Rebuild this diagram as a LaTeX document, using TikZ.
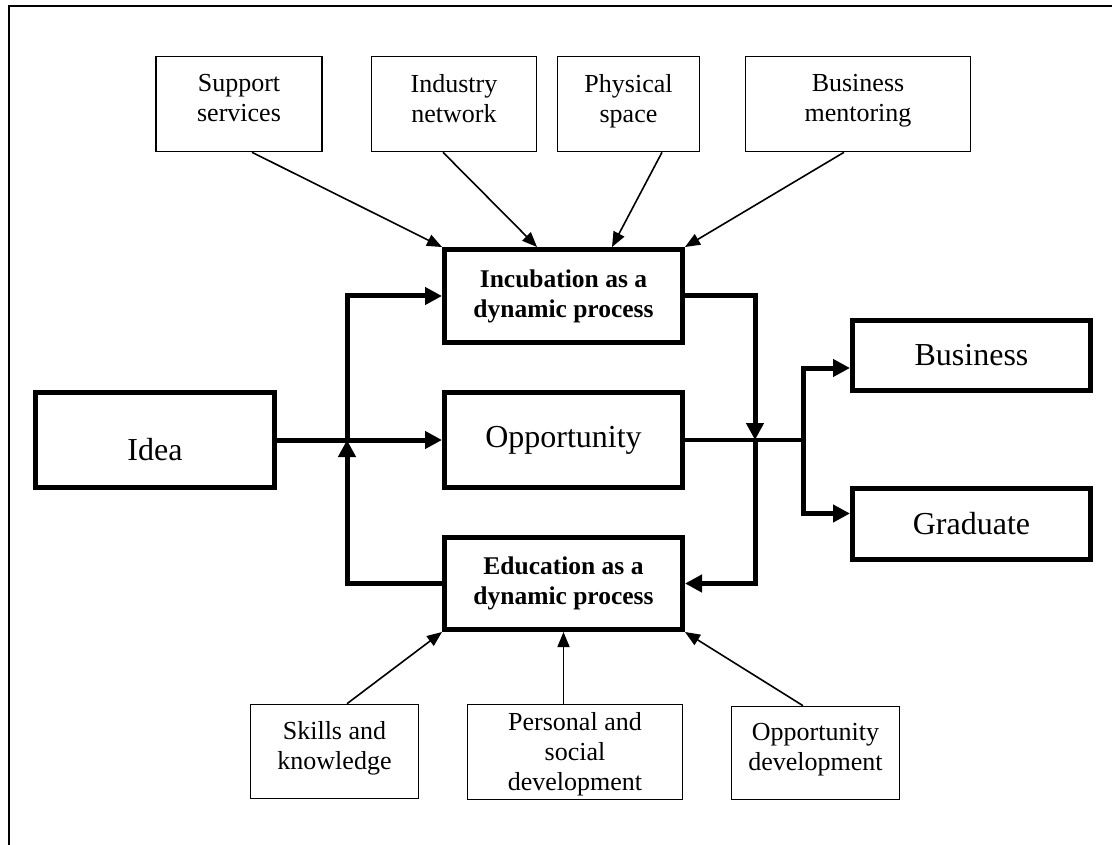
\documentclass[tikz,border=0pt]{standalone}
\usepackage{fontspec}
\setmainfont{Liberation Serif}
\usetikzlibrary{arrows.meta}
\begin{document}
\begin{tikzpicture}[x=1pt,y=-1pt,
  mainbox/.style={draw, line width=5pt, inner sep=0pt, align=center, minimum width=238pt},
  sidebox/.style={draw, line width=1.6pt, inner sep=0pt, align=center, text depth=12pt,
                  font=\fontsize{26}{30}\selectfont},
  boldlabel/.style={font=\fontsize{25.5}{30}\selectfont\bfseries},
  biglabel/.style={font=\fontsize{32}{36}\selectfont},
  flow/.style={line width=5pt, -{Triangle[length=17pt,width=17pt]}},
  plainflow/.style={line width=4.5pt},
  feed/.style={line width=1.6pt, -{Triangle[length=15pt,width=12pt]}}]

\useasboundingbox (0,0) rectangle (1112,845);

% frame
\draw[line width=1.6pt] (1112,6) -- (9,6) -- (9,845);

% main process boxes
\node[mainbox, biglabel, minimum width=239pt, minimum height=95pt, text height=40pt, text depth=0pt] (idea) at (155,440) {Idea};
\node[mainbox, boldlabel, minimum height=93pt] (incub) at (563.5,296) {Incubation as a\\dynamic process};
\node[mainbox, biglabel, minimum height=95pt] (opp) at (563.5,440) {Opportunity};
\node[mainbox, boldlabel, minimum height=92pt] (edu) at (563.5,583.5) {Education as a\\dynamic process};
\node[mainbox, biglabel, minimum height=70pt] (bus) at (971.5,355.5) {Business};
\node[mainbox, biglabel, minimum height=71pt] (grad) at (971.5,524) {Graduate};

% incubation inputs
\node[sidebox, minimum width=166pt, minimum height=95pt] (sup) at (239,104) {Support\\services};
\node[sidebox, minimum width=165pt, minimum height=95pt] (ind) at (454,104) {Industry\\network};
\node[sidebox, minimum width=142pt, minimum height=95pt] (phys) at (628.5,104) {Physical\\space};
\node[sidebox, minimum width=225pt, minimum height=95pt] (ment) at (858,104) {Business\\mentoring};

% education inputs
\node[sidebox, minimum width=168pt, minimum height=94pt] (skills) at (334.5,751.5) {Skills and\\knowledge};
\node[sidebox, minimum width=215pt, minimum height=95pt, text depth=2pt] (pers) at (575,752) {Personal and\\social\\development};
\node[sidebox, minimum width=168pt, minimum height=93pt] (oppdev) at (815.5,753) {Opportunity\\development};

% junctions
\coordinate (jl) at (347,440);
\coordinate (jr) at (755,440);
\coordinate (jb) at (803,440);

% main flow
\draw[flow] (idea.east) -- (opp.west);
\draw[flow] (jl) |- (incub.west);
\draw[flow] (edu.west) -| (jl);
\draw[flow] (incub.east) -| (jr);
\draw[flow] (jr) |- (edu.east);
\draw[plainflow] (opp.east) -- (jb);
\draw[flow] (jb) |- ([yshift=-12.5pt]bus.west);
\draw[flow] (jb) |- ([yshift=10.5pt]grad.west);

% feeds into incubation
\draw[feed] ([xshift=13pt]sup.south) -- (incub.north west);
\draw[feed] ([xshift=-11pt]ind.south) -- ([xshift=-26.5pt]incub.north);
\draw[feed] ([xshift=33.5pt]phys.south) -- ([xshift=48.5pt]incub.north);
\draw[feed] ([xshift=-14pt]ment.south) -- (incub.north east);

% feeds into education
\draw[feed] ([xshift=12.5pt]skills.north) -- (edu.south west);
\draw[feed] (pers.north -| edu.south) -- (edu.south);
\draw[feed] ([xshift=-12.5pt]oppdev.north) -- (edu.south east);
\end{tikzpicture}
\end{document}
